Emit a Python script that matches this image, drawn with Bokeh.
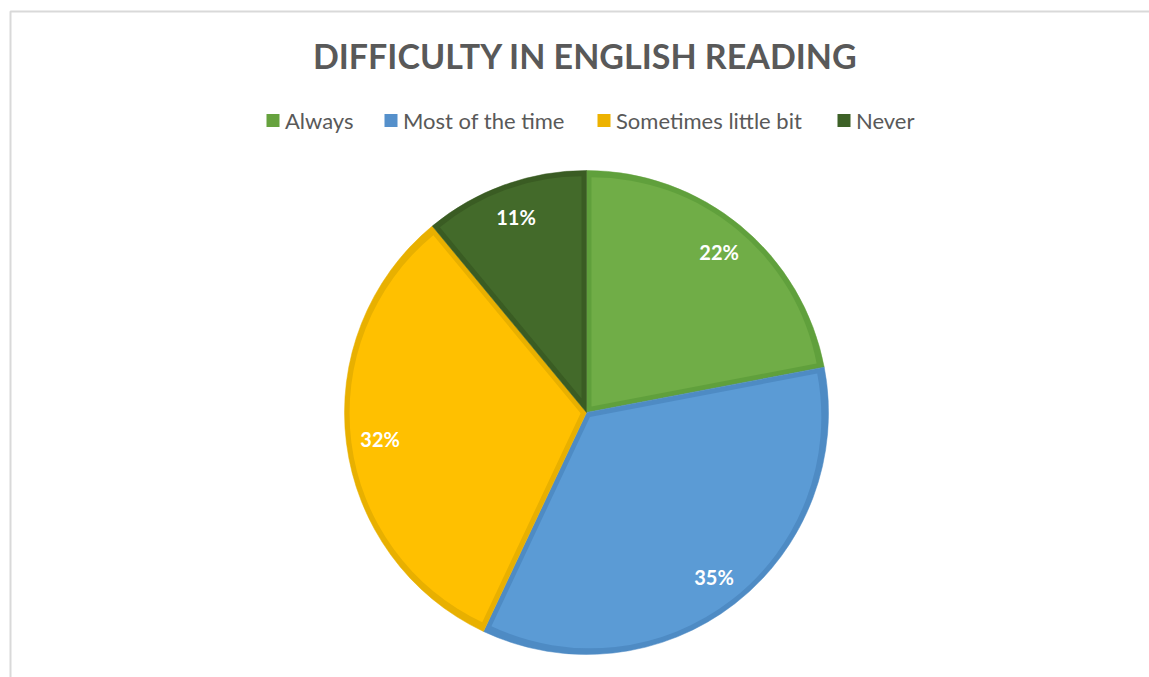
import math
from bokeh.plotting import figure
from bokeh.models import Range1d, ColumnDataSource
from bokeh.core.properties import value
from bokeh.embed import file_html
from bokeh.resources import INLINE

# ---- data ----
categories = ["Always", "Most of the time", "Sometimes little bit", "Never"]
percent = [22, 35, 32, 11]
pct_labels = ["22%", "35%", "32%", "11%"]
title_text = "DIFFICULTY IN ENGLISH READING"

# ---- style ----
fill_colors = ["#70AD47", "#5B9BD5", "#FFC000", "#436A2A"]
edge_colors = ["#60A03C", "#4E8BC4", "#E8B000", "#3A5C23"]
legend_colors = ["#66A23E", "#5590CB", "#EDB200", "#3D6127"]
W, H = 1149, 677
cx, cy_px, R = 586, 412, 242
inset = 5
label_r = 208
legend_sq_x = [272.5, 390.5, 603.5, 843.5]
legend_y_px = 120

def fy(py):
    return H - py

p = figure(width=W, height=H, x_range=Range1d(0, W), y_range=Range1d(0, H),
           output_backend="svg", toolbar_location=None, min_border=0,
           x_axis_location=None, y_axis_location=None)
p.grid.visible = False
p.outline_line_color = None
p.background_fill_color = "white"
p.border_fill_color = "white"

# chart-area border (top and left visible)
p.line(x=[10, 10, W + 5], y=[fy(H + 5), fy(11), fy(11)], line_color="#D9D9D9", line_width=2)

total = float(sum(percent))
cy = fy(cy_px)
starts, ends, mids = [], [], []
acc = 0.0
for v in percent:
    a0 = math.pi / 2 - 2 * math.pi * acc / total
    acc += v
    a1 = math.pi / 2 - 2 * math.pi * acc / total
    starts.append(a0); ends.append(a1); mids.append((a0 + a1) / 2)

# outer wedges in edge colour
src = ColumnDataSource(dict(start=starts, end=ends, color=edge_colors))
p.wedge(x=cx, y=cy, radius=R, start_angle="start", end_angle="end", direction="clock",
        fill_color="color", line_color="color", line_width=0.5, source=src)

# inner wedges (inset) in fill colour
ix, iy, ir = [], [], []
for a0, a1, m in zip(starts, ends, mids):
    half = abs(a0 - a1) / 2
    s = inset / math.sin(half)
    ix.append(cx + s * math.cos(m))
    iy.append(cy + s * math.sin(m))
    ir.append(R - inset - s)
src2 = ColumnDataSource(dict(x=ix, y=iy, r=ir, start=starts, end=ends, color=fill_colors))
p.wedge(x="x", y="y", radius="r", start_angle="start", end_angle="end", direction="clock",
        fill_color="color", line_color=None, source=src2)

# percentage labels
lx = [cx + label_r * math.cos(m) for m in mids]
ly = [cy + label_r * math.sin(m) for m in mids]
p.text(x=lx, y=ly, text=pct_labels, text_color="white", text_font=value("Lato"),
       text_font_style="bold", text_font_size="20px", text_align="center", text_baseline="middle")

# title
p.text(x=[585], y=[fy(55)], text=[title_text], text_color="#595959",
       text_font=value("Lato"), text_font_style="bold", text_font_size="34px",
       text_align="center", text_baseline="middle")

# legend
ly_leg = fy(legend_y_px)
p.rect(x=legend_sq_x, y=[ly_leg] * 4, width=13, height=13, fill_color=legend_colors, line_color=None)
p.text(x=[x + 12 for x in legend_sq_x], y=[ly_leg] * 4, text=categories, text_color="#595959",
       text_font=value("Lato"), text_font_size="22px", text_align="left", text_baseline="middle")

open("out.html", "w").write(file_html(p, INLINE))
